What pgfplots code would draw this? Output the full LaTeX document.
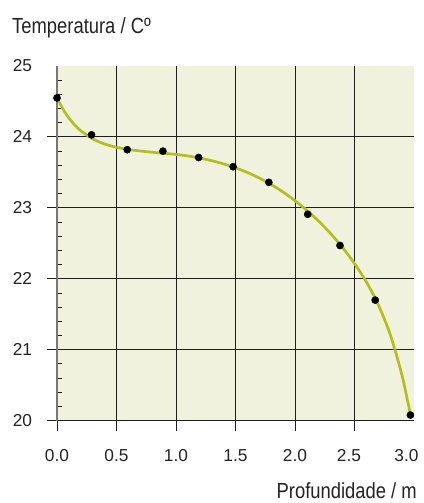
\documentclass[border=0pt]{standalone}
\usepackage{fontspec}
\setmainfont{Liberation Sans}
\newfontfamily\lblfont[FakeStretch=0.84]{Liberation Sans}
\usepackage{pgfplots}
\pgfplotsset{compat=1.18}
\definecolor{bgcol}{RGB}{241,242,222}
\definecolor{curvecol}{RGB}{180,190,30}
\definecolor{gridcol}{RGB}{30,30,30}
\definecolor{yaxcol}{RGB}{120,120,110}
\definecolor{txtcol}{RGB}{35,35,35}
\begin{document}
\begin{tikzpicture}
\begin{axis}[name=ax, at={(0,0)}, anchor=south west,
  scale only axis, width=357bp, height=354.7bp,
  xmin=0, xmax=3, ymin=20, ymax=25,
  clip=false,
  axis background/.style={fill=bgcol},
  axis x line*=bottom, axis y line*=left,
  x axis line style={-, draw=gridcol, line width=1.3bp},
  y axis line style={-, draw=yaxcol, line width=1.8bp},
  xtick={0,0.5,1,1.5,2,2.5},
  xticklabels={0.0,0.5,1.0,1.5,2.0,\hspace*{-11bp}2.5},
  extra x ticks={3}, extra x tick labels={\hspace*{-15bp}3.0},
  extra x tick style={major tick length=0pt, grid=none},
  ytick={20,21,22,23,24},
  extra y ticks={25}, extra y tick labels={25},
  extra y tick style={major tick length=0pt, grid=none},
  minor ytick={20.2,20.4,20.6,20.8,21.2,21.4,21.6,21.8,22.2,22.4,22.6,22.8,23.2,23.4,23.6,23.8,24.2,24.4,24.6,24.8},
  grid=major, major grid style={draw=gridcol, line width=1bp},
  tick align=inside, major tick length=-10bp, minor tick length=5.3bp,
  tick style={draw=gridcol, line width=1bp},
  /pgf/number format/assume math mode=true,
  ticklabel style={font=\fontsize{17.3bp}{20bp}\selectfont, text=txtcol, inner sep=0pt},
  xticklabel style={anchor=north, yshift=-29bp},
  yticklabel style={anchor=east, xshift=-24.7bp},
  xlabel={Profundidade / m},
  ylabel={Temperatura / Cº},
  every axis x label/.style={at={(rel axis cs:1,0)}, anchor=base east, xshift=3bp, yshift=-77.5bp, inner sep=0pt, font=\lblfont\fontsize{21.9bp}{26bp}\selectfont, text=txtcol},
  every axis y label/.style={at={(rel axis cs:0,1)}, anchor=base west, xshift=-45bp, yshift=32bp, inner sep=0pt, font=\lblfont\fontsize{21.9bp}{26bp}\selectfont, text=txtcol},
]
\addplot[curvecol, line width=2.7bp, smooth, tension=0.5, no markers] coordinates {
(0.00,24.55) (0.05,24.393) (0.10,24.267) (0.15,24.167) (0.20,24.087) (0.30,23.973)
(0.40,23.90) (0.50,23.855) (0.60,23.823) (0.70,23.802) (0.80,23.784) (0.90,23.768)
(1.00,23.754) (1.10,23.732) (1.20,23.702) (1.30,23.665) (1.40,23.62) (1.50,23.565)
(1.60,23.499) (1.70,23.421) (1.80,23.329) (1.90,23.223) (2.00,23.102) (2.10,22.965)
(2.20,22.811) (2.30,22.637) (2.40,22.44) (2.50,22.215) (2.60,21.955) (2.70,21.635)
(2.80,21.215) (2.90,20.635) (2.97,20.08)
};
\addplot[only marks, mark=*, mark size=3.6bp, mark options={draw=black, fill=black}] coordinates {
(0.0,24.55) (0.29,24.03) (0.59,23.82) (0.89,23.80) (1.19,23.71) (1.48,23.58)
(1.78,23.36) (2.107,22.91) (2.378,22.47) (2.674,21.70) (2.97,20.08)
};
\end{axis}
\pgfresetboundingbox
\path[use as bounding box] (ax.south west) ++(-57bp,-82.3bp) rectangle ++(424bp,503bp);
\end{tikzpicture}
\end{document}
